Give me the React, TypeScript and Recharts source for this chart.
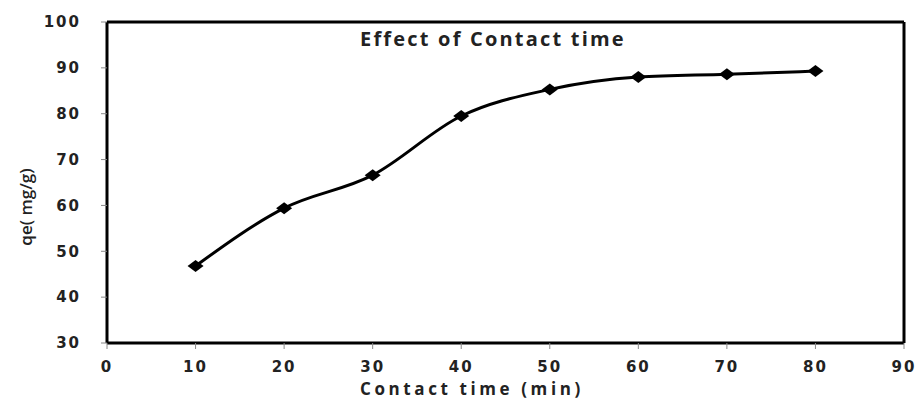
import { LineChart, Line, XAxis, YAxis, ReferenceLine } from 'recharts';

const contactTime = [10, 20, 30, 40, 50, 60, 70, 80];
const qe = [46.8, 59.4, 66.6, 79.5, 85.3, 88.0, 88.6, 89.3];
const xTicks = [0, 10, 20, 30, 40, 50, 60, 70, 80, 90];
const yTicks = [30, 40, 50, 60, 70, 80, 90, 100];

const chartData = contactTime.map((t, i) => ({ t, qe: qe[i] }));

const tickFont = '"DejaVu Sans", Verdana, sans-serif';
const labelFont = '"Open Sans", "DejaVu Sans", sans-serif';
const tickStyle = { fill: '#222', fontSize: 15, fontWeight: 700, fontFamily: tickFont, letterSpacing: 2 };

function Diamond(props: any) {
  const { cx, cy } = props;
  if (cx == null || cy == null) return null;
  return <path d={`M${cx - 8},${cy} L${cx},${cy - 6} L${cx + 8},${cy} L${cx},${cy + 6} Z`} fill="#000" />;
}

export default function App() {
  return (
    <div style={{ position: 'absolute', left: 0, top: 0, width: 922, height: 400, background: '#fff', overflow: 'hidden' }}>
      <LineChart width={922} height={400} data={chartData} margin={{ top: 22, right: 18, left: 0, bottom: 0 }}>
        <XAxis
          type="number"
          dataKey="t"
          domain={[0, 90]}
          ticks={xTicks}
          height={57}
          tick={tickStyle}
          tickSize={6}
          tickMargin={12}
          axisLine={{ stroke: '#000', strokeWidth: 3 }}
          tickLine={{ stroke: '#888' }}
        />
        <YAxis
          type="number"
          domain={[30, 100]}
          ticks={yTicks}
          width={107}
          tick={tickStyle}
          tickSize={6}
          tickMargin={20}
          axisLine={{ stroke: '#000', strokeWidth: 3 }}
          tickLine={{ stroke: '#888' }}
        />
        <ReferenceLine y={100} stroke="#000" strokeWidth={3} ifOverflow="visible" />
        <ReferenceLine x={90} stroke="#000" strokeWidth={3} ifOverflow="visible" />
        <Line
          type="monotone"
          dataKey="qe"
          stroke="#000"
          strokeWidth={3}
          dot={<Diamond />}
          activeDot={false}
          isAnimationActive={false}
        />
      </LineChart>
      <div
        style={{
          position: 'absolute',
          left: 360,
          top: 29,
          lineHeight: 1,
          fontFamily: labelFont,
          fontWeight: 700,
          fontSize: 20,
          letterSpacing: 2.2,
          color: '#222',
          whiteSpace: 'nowrap',
        }}
      >
        Effect of Contact time
      </div>
      <div
        style={{
          position: 'absolute',
          left: 360,
          top: 380,
          lineHeight: 1,
          fontFamily: labelFont,
          fontWeight: 700,
          fontSize: 17,
          letterSpacing: 3.6,
          color: '#222',
          whiteSpace: 'nowrap',
        }}
      >
        Contact time (min)
      </div>
      <div
        style={{
          position: 'absolute',
          left: 25,
          top: 207,
          transform: 'translate(-50%, -50%) rotate(-90deg)',
          lineHeight: 1,
          fontFamily: labelFont,
          fontWeight: 600,
          fontSize: 17,
          color: '#222',
          whiteSpace: 'nowrap',
        }}
      >
        qe( mg/g)
      </div>
    </div>
  );
}
